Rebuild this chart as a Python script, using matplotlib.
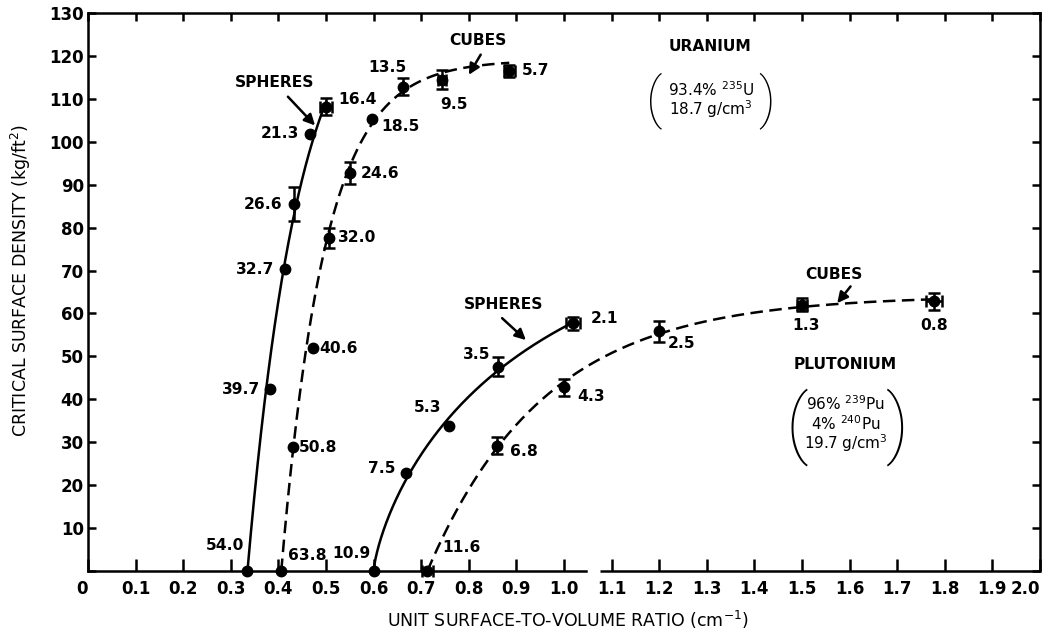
import numpy as np
import matplotlib.pyplot as plt

# uranium, spheres (solid curve)
u_sph_x = [0.335, 0.382, 0.414, 0.433, 0.467, 0.500]
u_sph_y = [0.0, 42.3, 70.3, 85.5, 101.9, 108.2]
u_sph_lbl = ['54.0', '39.7', '32.7', '26.6', '21.3', '16.4']
u_sph_yerr = [0, 0, 0, 3.9, 0, 2.0]
u_sph_xerr = [0, 0, 0, 0, 0, 0.013]

# uranium, cubes (dashed curve)
u_cub_x = [0.406, 0.431, 0.473, 0.506, 0.550, 0.597, 0.662, 0.744, 0.885]
u_cub_y = [0.0, 28.8, 51.9, 77.6, 92.7, 105.2, 112.8, 114.5, 116.5]
u_cub_lbl = ['63.8', '50.8', '40.6', '32.0', '24.6', '18.5', '13.5', '9.5', '5.7']
u_cub_yerr = [0, 0, 0, 2.4, 2.5, 0, 2.0, 2.2, 1.5]
u_cub_xerr = [0, 0, 0, 0, 0, 0, 0, 0.009, 0.012]

# plutonium, spheres (solid curve)
p_sph_x = [0.600, 0.668, 0.759, 0.861, 1.019]
p_sph_y = [0.0, 22.9, 33.8, 47.6, 57.7]
p_sph_lbl = ['10.9', '7.5', '5.3', '3.5', '2.1']
p_sph_yerr = [0, 0, 0, 2.2, 1.5]
p_sph_xerr = [0, 0, 0, 0, 0.015]

# plutonium, cubes (dashed curve)
p_cub_x = [0.713, 0.859, 1.000, 1.200, 1.500, 1.777]
p_cub_y = [0.0, 29.2, 42.8, 55.8, 62.0, 62.8]
p_cub_lbl = ['11.6', '6.8', '4.3', '2.5', '1.3', '0.8']
p_cub_yerr = [0, 2.0, 2.0, 2.5, 1.5, 2.0]
p_cub_xerr = [0.012, 0, 0, 0, 0.010, 0.017]

x_ticks = np.round(np.arange(0, 2.01, 0.1), 1)
y_ticks = np.arange(0, 131, 10)

# label placement: (ha, dx px, dy px)
u_sph_pos = [('center', -22, 25), ('right', -10, 0), ('right', -11, 0),
             ('right', -12, 0), ('right', -11, 0), ('left', 12, 7)]
u_cub_pos = [('left', 7, 16), ('left', 6, 0), ('left', 6, 0), ('left', 9, 0),
             ('left', 11, 0), ('left', 9, -7), ('center', -16, 19),
             ('center', 12, -25), ('left', 13, 0)]
p_sph_pos = [('center', -22, 18), ('right', -10, 4), ('center', -22, 18),
             ('center', -21, 12), ('left', 18, 5)]
p_cub_pos = [('center', 34, 23), ('left', 13, -6), ('left', 13, -9),
             ('left', 9, -12), ('center', 4, -21), ('center', 0, -24)]

SX, SY = 476.0, 4.29  # px per data unit, so the fit works on screen distance


def fit_curve(x, y, n=300):
    # y = A(1 - exp(-(k(x - x0))^p)) starting at the point on the axis,
    # fitted by brute force on the distance from each point to the curve
    x, y = np.asarray(x, float), np.asarray(y, float)
    x0 = x[0]
    xs = np.linspace(x0, x[-1], n)
    d = xs - x0
    amps = np.linspace(0.9, 3.0, 70)[:, None] * y.max()
    dxp2 = (((xs[:, None] - x[None, :]) * SX) ** 2)[None]
    best = (np.inf, None)
    for p in np.linspace(0.6, 1.0, 9):
        for k in np.logspace(0, 2, 80):
            g = 1 - np.exp(-(k * d) ** p)
            dyp = (amps[:, :, None] * g[None, :, None] - y[None, None, :]) * SY
            cost = (dxp2 + dyp ** 2).min(axis=1).sum(axis=1)
            i = cost.argmin()
            if cost[i] < best[0]:
                best = (cost[i], (amps[i, 0], k, p))
    a, k, p = best[1]
    return xs, a * (1 - np.exp(-(k * d) ** p))


lab_font = dict(family='DejaVu Sans', weight='bold', size=11.2)

fig = plt.figure(figsize=(10.52, 6.4), dpi=100)
ax = fig.add_axes([88 / 1052, 69 / 640, 952 / 1052, 558 / 640])


def draw_series(x, y, lbl, yerr, xerr, pos, ls):
    fx, fy = fit_curve(x, y)
    ax.plot(fx, fy, color='k', lw=1.8, ls=ls, clip_on=False)
    ax.plot(x, y, 'o', color='k', ms=7.5, clip_on=False, zorder=4)
    x, y = np.asarray(x), np.asarray(y)
    yerr, xerr = np.asarray(yerr), np.asarray(xerr)
    m = (yerr > 0) | (xerr > 0)
    ax.errorbar(x[m], y[m], yerr=yerr[m], xerr=xerr[m], fmt='none', ecolor='k',
                elinewidth=1.8, capsize=4, capthick=1.8, clip_on=False, zorder=4)
    for xi, yi, s, (ha, dx, dy) in zip(x, y, lbl, pos):
        ax.annotate(s, (xi, yi), xytext=(dx, dy), textcoords='offset pixels',
                    ha=ha, va='center', **lab_font)


dash = (0, (5, 2.6))
draw_series(u_sph_x, u_sph_y, u_sph_lbl, u_sph_yerr, u_sph_xerr, u_sph_pos, '-')
draw_series(u_cub_x, u_cub_y, u_cub_lbl, u_cub_yerr, u_cub_xerr, u_cub_pos, dash)
draw_series(p_sph_x, p_sph_y, p_sph_lbl, p_sph_yerr, p_sph_xerr, p_sph_pos, '-')
draw_series(p_cub_x, p_cub_y, p_cub_lbl, p_cub_yerr, p_cub_xerr, p_cub_pos, dash)

arrow = dict(arrowstyle='-|>', color='k', lw=1.8, mutation_scale=16,
             shrinkA=0, shrinkB=0)
ax.text(0.392, 113.8, 'SPHERES', ha='center', va='center', **lab_font)
ax.annotate('', (0.477, 103.8), xytext=(0.42, 110.5), arrowprops=arrow)
ax.text(0.82, 123.5, 'CUBES', ha='center', va='center', **lab_font)
ax.annotate('', (0.80, 115.6), xytext=(0.825, 120.3), arrowprops=arrow)
ax.text(0.873, 62.0, 'SPHERES', ha='center', va='center', **lab_font)
ax.annotate('', (0.92, 53.8), xytext=(0.87, 58.9), arrowprops=arrow)
ax.text(1.568, 69.0, 'CUBES', ha='center', va='center', **lab_font)
ax.annotate('', (1.574, 62.4), xytext=(1.602, 66.3), arrowprops=arrow)

# material boxes
ax.text(1.306, 122.3, 'URANIUM', ha='center', va='center', **lab_font)
iso_font = dict(family='DejaVu Sans', size=11)
ax.text(1.308, 112.2, r'93.4% $^{235}$U', ha='center', va='center', **iso_font)
ax.text(1.308, 107.6, r'18.7 g/cm$^3$', ha='center', va='center', **iso_font)
paren_font = dict(family=['Roboto', 'DejaVu Sans'], weight='light')
ax.text(1.19, 109.5, '(', ha='center', va='center', size=40, **paren_font)
ax.text(1.425, 109.5, ')', ha='center', va='center', size=40, **paren_font)

ax.text(1.59, 48.0, 'PLUTONIUM', ha='center', va='center', **lab_font)
ax.text(1.592, 38.9, r'96% $^{239}$Pu', ha='center', va='center', **iso_font)
ax.text(1.592, 34.4, r'4% $^{240}$Pu', ha='center', va='center', **iso_font)
ax.text(1.592, 29.7, r'19.7 g/cm$^3$', ha='center', va='center', **iso_font)
ax.text(1.49, 33.6, '(', ha='center', va='center', size=55, **paren_font)
ax.text(1.70, 33.6, ')', ha='center', va='center', size=55, **paren_font)

ax.set_xlim(0, 2.0)
ax.set_ylim(0, 130)
ax.set_xticks(x_ticks)
ax.set_xticklabels(['0' if v == 0 else f'{v:.1f}' for v in x_ticks])
ax.set_yticks(y_ticks)
ax.set_yticklabels(['' if v == 0 else str(v) for v in y_ticks])
for lab in ax.get_xticklabels() + ax.get_yticklabels():
    lab.set_fontfamily('DejaVu Sans')
    lab.set_fontweight('bold')
    lab.set_fontsize(12)
ax.get_xticklabels()[-1].set_horizontalalignment('right')
ax.get_xticklabels()[0].set_horizontalalignment('right')
ax.tick_params(direction='in', top=True, right=True, width=1.8, length=6)
ax.tick_params(axis='x', pad=6.5)
ax.tick_params(axis='y', pad=3)
for t in ax.xaxis.get_major_ticks():
    t.tick1line.set_markersize(9)

for s in ax.spines.values():
    s.set_linewidth(1.8)
# the bottom axis line is broken just past 1.0
gap = (1.047, 1.075)
ax.spines['bottom'].set_bounds(0, gap[0])
ax.plot([gap[1], 2.0], [0, 0], color='k', lw=1.8, clip_on=False,
        transform=ax.get_xaxis_transform(), solid_capstyle='butt')

ax.set_xlabel('UNIT SURFACE-TO-VOLUME RATIO (cm$^{-1}$)', family='DejaVu Sans',
              size=12.5)
ax.xaxis.set_label_coords(0.504, -0.068)
ax.set_ylabel('CRITICAL SURFACE DENSITY (kg/ft$^2$)', family='DejaVu Sans',
              size=12.5)
ax.yaxis.set_label_coords(-0.058, 0.52)

fig.savefig('out.png', dpi=100)
